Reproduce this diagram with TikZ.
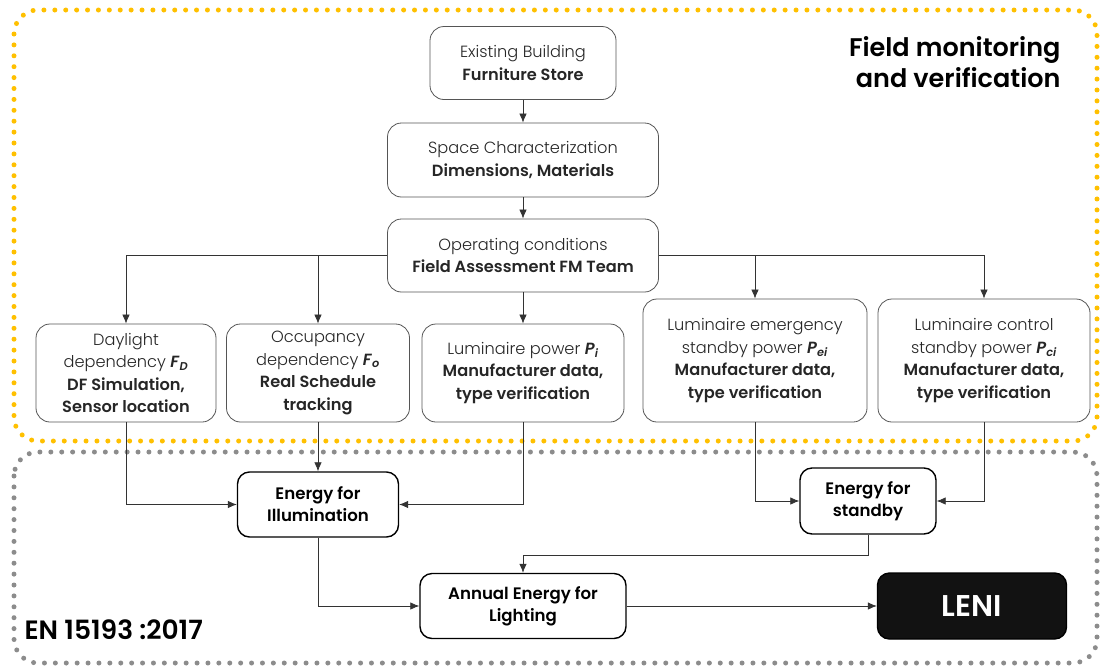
\documentclass[tikz,border=0pt]{standalone}
\usepackage{fontspec}
\setmainfont{Poppins}[UprightFont=* Light, BoldFont=* SemiBold, BoldItalicFont=* SemiBold Italic]
\usepackage{tikz}
\usetikzlibrary{arrows.meta,positioning,calc}

\definecolor{fmyellow}{HTML}{FFC000}
\definecolor{engray}{HTML}{8C8C8C}
\definecolor{boxgray}{HTML}{555555}

\newcommand{\fsym}[2]{\textbf{\textit{#1}\textsubscript{\textit{#2}}}}

\begin{document}
\begin{tikzpicture}[
  x=1pt, y=-1pt,
  font=\fontsize{16.2}{22.5}\selectfont,
  every node/.style={align=center},
  upbox/.style={draw=boxgray, line width=0.8pt, rounded corners=14pt,
                inner sep=3pt, text=black!85},
  lowbox/.style={draw=black, line width=1.4pt, rounded corners=12pt,
                 inner sep=3pt, font=\fontsize{16.6}{22}\selectfont\bfseries},
  arrow/.style={-{Latex[length=9pt,width=7.5pt]}, line width=0.75pt, draw=black!80},
  zone/.style={line width=5pt, dash pattern=on 0pt off 10.9pt,
               line cap=round, rounded corners=24pt},
]

\useasboundingbox (0,0) rectangle (1101,665);

% the two zones
\draw[zone,fmyellow] (14,10) rectangle (1097,441);
\draw[zone,engray]   (14,452) rectangle (1097,663);

\node[font=\fontsize{25.5}{31}\selectfont\bfseries, align=right, anchor=east]
  (fmlabel) at (1064,62) {Field monitoring\\and verification};
\node[font=\fontsize{26.5}{30}\selectfont\bfseries, anchor=west]
  (enlabel) at (21,630) {EN 15193 :2017};

% field monitoring chain
\node[upbox, minimum width=186, minimum height=73] (exist) at (523,63)
  {Existing Building\\\textbf{Furniture Store}};
\node[upbox, minimum width=271, minimum height=74] (space) at (523,160)
  {Space Characterization\\\textbf{Dimensions, Materials}};
\node[upbox, minimum width=271, minimum height=73] (oper)  at (523,255.5)
  {Operating conditions\\\textbf{Field Assessment FM Team}};

\node[upbox, minimum width=180, minimum height=98] (day) at (126,373)
  {Daylight\\dependency \fsym{F}{D}\\\textbf{DF Simulation,}\\\textbf{Sensor location}};
\node[upbox, minimum width=183, minimum height=98] (occ) at (318,373)
  {Occupancy\\dependency \fsym{F}{o}\\\textbf{Real Schedule}\\\textbf{tracking}};
\node[upbox, minimum width=202, minimum height=98] (lum) at (523,373)
  {Luminaire power \fsym{P}{i}\\\textbf{Manufacturer data,}\\\textbf{type verification}};
\node[upbox, minimum width=224, minimum height=123] (emer) at (755,360.5)
  {Luminaire emergency\\standby power \fsym{P}{ei}\\\textbf{Manufacturer data,}\\\textbf{type verification}};
\node[upbox, minimum width=212, minimum height=123] (ctrl) at (984,360.5)
  {Luminaire control\\standby power \fsym{P}{ci}\\\textbf{Manufacturer data,}\\\textbf{type verification}};

% EN 15193 calculation
\node[lowbox, minimum width=161, minimum height=65] (illum) at (318,504.5)
  {Energy for\\Illumination};
\node[lowbox, minimum width=136, minimum height=66] (stby) at (868,501)
  {Energy for\\standby};
\node[lowbox, minimum width=206, minimum height=65] (annual) at (523,606)
  {Annual Energy for\\Lighting};
\node[lowbox, fill=black!93, text=white, minimum width=189, minimum height=66,
      font=\fontsize{30}{34}\selectfont\bfseries] (leni) at (972,606) {LENI};

\draw[arrow] (exist) -- (space);
\draw[arrow] (space) -- (oper);
\draw[arrow] (oper) -- (lum);
\foreach \t in {day,occ}{
  \draw[arrow] (oper.west) -| (\t);
}
\foreach \t in {emer,ctrl}{
  \draw[arrow] (oper.east) -| (\t);
}

\draw[arrow] (day) |- (illum);
\draw[arrow] (occ) -- (illum);
\draw[arrow] (lum) |- (illum);
\draw[arrow] (emer) |- (stby);
\draw[arrow] (ctrl) |- (stby);
\draw[arrow] (stby.south) -- ++(0,21) -| (annual.north);
\draw[arrow] (illum) |- (annual);
\draw[arrow] (annual) -- (leni);

\end{tikzpicture}
\end{document}
